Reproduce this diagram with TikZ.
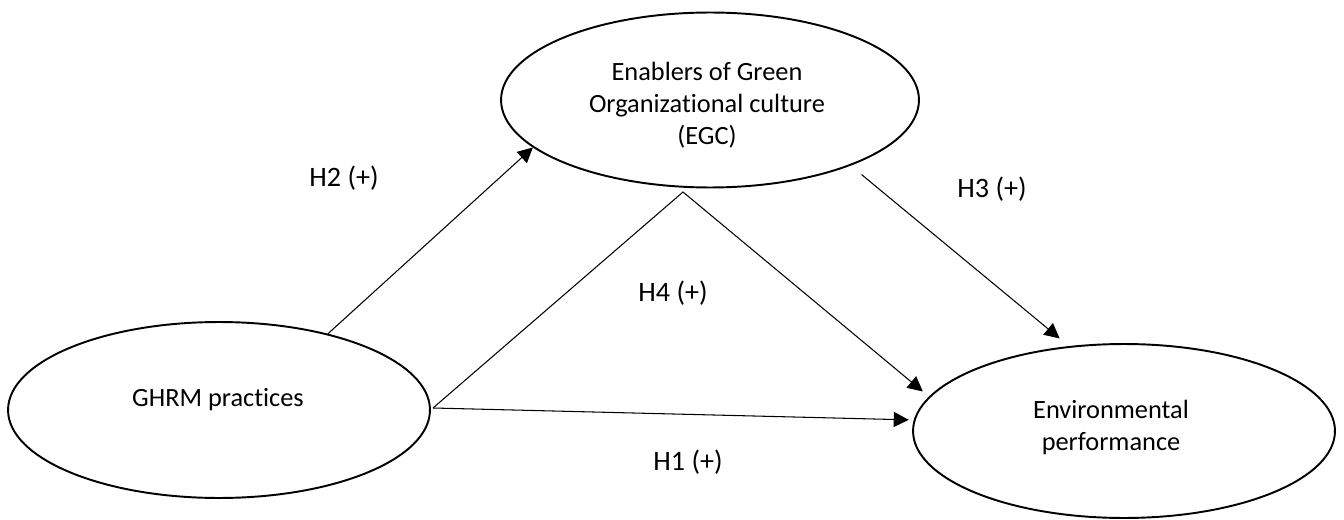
\documentclass[tikz,border=0pt]{standalone}
\usepackage{fontspec}
\setmainfont{Carlito}[Ligatures=NoCommon]
\usetikzlibrary{arrows.meta,shapes.geometric}

\begin{document}
\begin{tikzpicture}[x=0.02cm, y=-0.02cm, >={Triangle[length=0.3cm,width=0.3cm]},
    construct/.style={draw, ellipse, line width=1.1pt, inner sep=0pt},
    label text/.style={align=center, font=\fontsize{15}{18.2}\selectfont},
    hyp/.style={font=\fontsize{16}{18}\selectfont},
    link/.style={line width=0.6pt}]
    \useasboundingbox (0,0) rectangle (1344,520);

    % the three constructs
    \node[construct, minimum width=8.44cm, minimum height=3.52cm] (ghrm) at (219,410) {};
    \node[construct, minimum width=8.36cm, minimum height=3.5cm] (egc) at (710,100) {};
    \node[construct, minimum width=8.44cm, minimum height=3.48cm] (env) at (1124,431) {};

    \node[label text] (ghrmtext) at (218,400) {GHRM practices};
    \node[label text] (egctext) at (707,105) {Enablers of Green\\Organizational culture\\(EGC)};
    \node[label text] (envtext) at (1111,427) {Environmental\\performance};

    \coordinate (gout) at (433,408);
    \coordinate (apex) at (683,192);

    % hypotheses
    \draw[link, ->] (ghrm.35.5) -- (egc.195.6);
    \draw[link, ->, shorten <=0.28cm, shorten >=0.24cm] (egc.-25) -- (env.123);
    \draw[link, ->, shorten >=0.16cm] (gout) -- (apex) -- (env.170);
    \draw[link, ->, shorten >=0.1cm] (gout) -- (env.177);

    \node[hyp] (h2) at (344,178) {H2 (+)};
    \node[hyp] (h3) at (992,189) {H3 (+)};
    \node[hyp] (h4) at (673,293) {H4 (+)};
    \node[hyp] (h1) at (688,462) {H1 (+)};
\end{tikzpicture}
\end{document}
